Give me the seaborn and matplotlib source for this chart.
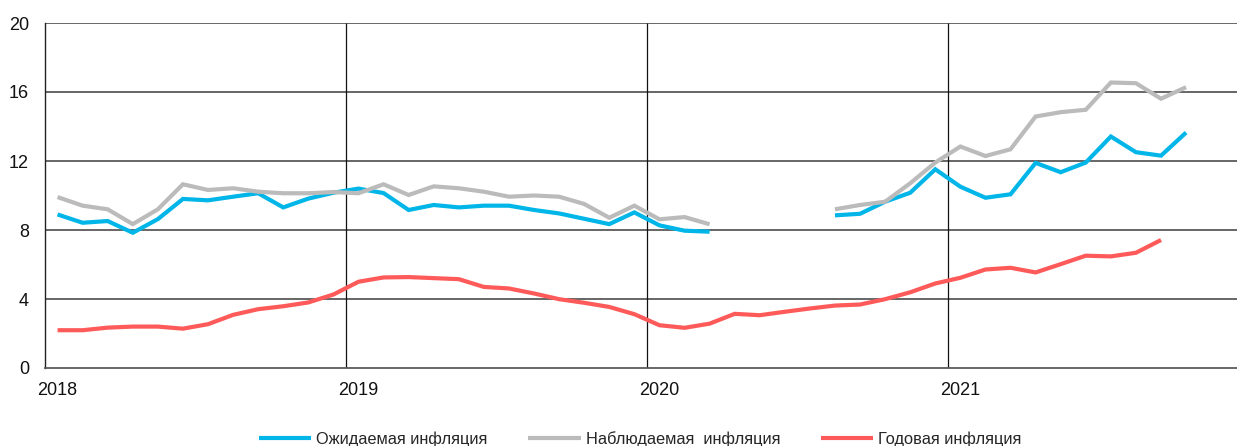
import numpy as np
import pandas as pd
import matplotlib
matplotlib.use("Agg")
import matplotlib.pyplot as plt
import seaborn as sns

nan = np.nan

# Monthly observations, January 2018 – October 2021
months = pd.date_range("2018-01-01", "2021-10-01", freq="MS")

expected = [
    8.90, 8.42, 8.52, 7.84, 8.63, 9.80, 9.72, 9.93, 10.13, 9.31, 9.82, 10.16,
    10.40, 10.14, 9.16, 9.45, 9.31, 9.41, 9.41, 9.16, 8.96, 8.65, 8.34, 9.02,
    8.27, 7.96, 7.90, nan, nan, nan, nan, 8.85, 8.94, 9.64, 10.16, 11.52,
    10.51, 9.87, 10.07, 11.89, 11.35, 11.91, 13.42, 12.51, 12.31, 13.65,
]
observed = [
    9.91, 9.41, 9.20, 8.34, 9.20, 10.65, 10.32, 10.42, 10.22, 10.13, 10.13, 10.20,
    10.13, 10.65, 10.03, 10.53, 10.42, 10.22, 9.93, 10.00, 9.93, 9.51, 8.71, 9.41,
    8.62, 8.75, 8.33, nan, nan, nan, nan, 9.20, 9.45, 9.64, 10.71, 11.91,
    12.84, 12.29, 12.68, 14.58, 14.83, 14.97, 16.55, 16.51, 15.61, 16.28,
]
annual = [
    2.19, 2.19, 2.34, 2.40, 2.40, 2.28, 2.54, 3.08, 3.41, 3.58, 3.80, 4.26,
    5.00, 5.25, 5.27, 5.21, 5.15, 4.70, 4.61, 4.32, 3.99, 3.78, 3.54, 3.12,
    2.48, 2.33, 2.57, 3.14, 3.06, 3.26, 3.45, 3.62, 3.68, 3.99, 4.39, 4.90,
    5.23, 5.71, 5.81, 5.54, 6.02, 6.51, 6.47, 6.68, 7.42, nan,
]

series_names = ["Ожидаемая инфляция", "Наблюдаемая  инфляция", "Годовая инфляция"]
series_colors = ["#00B6E8", "#BBBBBB", "#FF5A5A"]
year_labels = ["2018", "2019", "2020", "2021"]

# Long-form table; each unbroken run of values gets its own segment id
frames = []
for name, vals in zip(series_names, [expected, observed, annual]):
    v = np.asarray(vals, dtype=float)
    seg = np.cumsum(np.isnan(v))
    frames.append(pd.DataFrame({
        "idx": np.arange(len(v)),
        "value": v,
        "series": name,
        "segment": [f"{name}-{s}" for s in seg],
    }))
df = pd.concat(frames, ignore_index=True).dropna(subset=["value"])

sns.set_style("white")
plt.rcParams["font.family"] = ["Liberation Sans", "DejaVu Sans"]

fig = plt.figure(figsize=(12.37, 4.46), dpi=100)
ax = fig.add_axes([45 / 1237, 1 - 368 / 446, 1 - 45 / 1237, (368 - 23) / 446])

# Horizontal and year-boundary grid
for y in [4, 8, 12, 16, 20]:
    ax.axhline(y, color="#5a5a5a", lw=1.3, zorder=1)
for i, m in enumerate(months):
    if m.month == 1 and i > 0:
        ax.axvline(i - 0.5, color="#111111", lw=0.9, zorder=1)

sns.lineplot(
    data=df, x="idx", y="value", hue="series", units="segment",
    estimator=None, hue_order=series_names, palette=series_colors,
    linewidth=3.0, ax=ax, legend=True, zorder=3,
)
for line in ax.lines:
    line.set_solid_capstyle("butt")
    line.set_solid_joinstyle("miter")

ax.set_xlim(-0.5, 47.03)
ax.set_ylim(0, 20)
ax.set_yticks([0, 4, 8, 12, 16, 20])
ax.set_yticklabels(["0", "4", "8", "12", "16", "20"])
jan_idx = [i for i, m in enumerate(months) if m.month == 1]
ax.set_xticks(jan_idx)
ax.set_xticklabels(year_labels)
ax.tick_params(axis="both", length=0, labelsize=13, colors="#111111")
ax.tick_params(axis="y", pad=11.5)
ax.tick_params(axis="x", pad=10)
ax.set_xlabel("")
ax.set_ylabel("")

for side in ["top", "right"]:
    ax.spines[side].set_visible(False)
ax.spines["left"].set_color("#222222")
ax.spines["left"].set_linewidth(1.0)
ax.spines["bottom"].set_color("#5a5a5a")
ax.spines["bottom"].set_linewidth(1.3)

handles, labels = ax.get_legend_handles_labels()
ax.get_legend().remove()
fig.legend(
    handles, labels, loc="center", bbox_to_anchor=(0.5175, 1 - 439 / 446),
    ncol=3, frameon=False, fontsize=11.8, handlelength=3.2,
    handletextpad=0.3, columnspacing=2.5, borderpad=0,
)
for h in fig.legends[0].legend_handles:
    h.set_linewidth(3.0)

fig.savefig("out.png", dpi=100)
